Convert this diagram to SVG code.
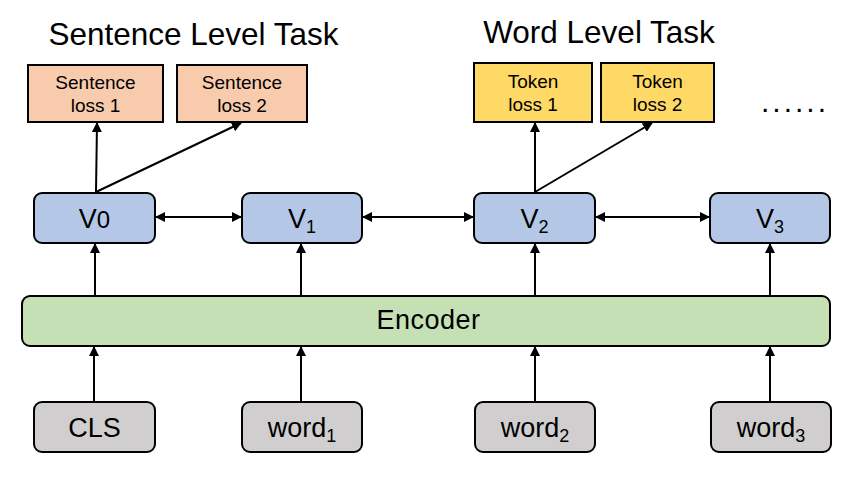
<svg xmlns="http://www.w3.org/2000/svg" width="866" height="480" viewBox="0 0 866 480">
<style>
text{font-family:"Liberation Sans",Arial,sans-serif;fill:#000}
.title{font-size:31.5px;text-anchor:middle}
.loss{font-size:19px;text-anchor:middle}
.lbl{font-size:27px;text-anchor:middle}
.box{stroke:#000;stroke-width:2}
.conn line{stroke:#000;stroke-width:2}
</style>
<defs>
<marker id="ah" viewBox="0 0 10 10" refX="9" refY="5" markerWidth="5" markerHeight="5" orient="auto-start-reverse" markerUnits="strokeWidth">
<path d="M0,0L10,5L0,10z" fill="#000"/>
</marker>
</defs>
<rect width="866" height="480" fill="#fff"/>
<text class="title" x="193.5" y="45">Sentence Level Task</text>
<text class="title" x="599" y="43">Word Level Task</text>
<text x="795" y="112" font-size="30" letter-spacing="3" text-anchor="middle">......</text>

<g id="sloss1"><rect class="box" x="28" y="65" width="135" height="57" fill="#F8CBAD"/><text class="loss" x="95.5" y="89">Sentence</text><text class="loss" x="95.5" y="112">loss 1</text></g>
<g id="sloss2"><rect class="box" x="177" y="65" width="130" height="57" fill="#F8CBAD"/><text class="loss" x="242" y="89">Sentence</text><text class="loss" x="242" y="112">loss 2</text></g>
<g id="tloss1"><rect class="box" x="474" y="63" width="118" height="59" fill="#FFD966"/><text class="loss" x="533" y="88">Token</text><text class="loss" x="533" y="111">loss 1</text></g>
<g id="tloss2"><rect class="box" x="601" y="63" width="113" height="59" fill="#FFD966"/><text class="loss" x="657.5" y="88">Token</text><text class="loss" x="657.5" y="111">loss 2</text></g>

<g id="v0"><rect class="box" x="34" y="193" width="121" height="50" rx="8" fill="#B4C7E7"/><text class="lbl" x="94.5" y="228">V<tspan font-size="24">0</tspan></text></g>
<g id="v1"><rect class="box" x="242" y="193" width="120" height="50" rx="8" fill="#B4C7E7"/><text class="lbl" x="302" y="228">V<tspan font-size="18" dy="5">1</tspan></text></g>
<g id="v2"><rect class="box" x="474" y="193" width="121" height="50" rx="8" fill="#B4C7E7"/><text class="lbl" x="534.5" y="228">V<tspan font-size="18" dy="5">2</tspan></text></g>
<g id="v3"><rect class="box" x="710" y="193" width="120" height="50" rx="8" fill="#B4C7E7"/><text class="lbl" x="770" y="228">V<tspan font-size="18" dy="5">3</tspan></text></g>

<g id="encoder"><rect class="box" x="22" y="296" width="808" height="50" rx="8" fill="#C5E0B4"/><text class="lbl" x="428.5" y="329" letter-spacing="0.5">Encoder</text></g>

<g id="cls"><rect class="box" x="34" y="402" width="121" height="50" rx="8" fill="#D0CECE"/><text class="lbl" x="94.5" y="437">CLS</text></g>
<g id="word1"><rect class="box" x="242" y="402" width="120" height="50" rx="8" fill="#D0CECE"/><text class="lbl" x="302" y="437">word<tspan font-size="18" dy="5">1</tspan></text></g>
<g id="word2"><rect class="box" x="475" y="402" width="120" height="50" rx="8" fill="#D0CECE"/><text class="lbl" x="535" y="437">word<tspan font-size="18" dy="5">2</tspan></text></g>
<g id="word3"><rect class="box" x="711" y="402" width="120" height="50" rx="8" fill="#D0CECE"/><text class="lbl" x="771" y="437">word<tspan font-size="18" dy="5">3</tspan></text></g>

<g class="conn" id="connectors">
<line x1="94" y1="402" x2="94" y2="347" marker-end="url(#ah)"/>
<line x1="301" y1="402" x2="301" y2="347" marker-end="url(#ah)"/>
<line x1="535" y1="402" x2="535" y2="347" marker-end="url(#ah)"/>
<line x1="770" y1="402" x2="770" y2="347" marker-end="url(#ah)"/>
<line x1="95" y1="296" x2="95" y2="244" marker-end="url(#ah)"/>
<line x1="301" y1="296" x2="301" y2="244" marker-end="url(#ah)"/>
<line x1="535" y1="296" x2="535" y2="244" marker-end="url(#ah)"/>
<line x1="770" y1="296" x2="770" y2="244" marker-end="url(#ah)"/>
<line x1="96" y1="192" x2="97" y2="123" marker-end="url(#ah)"/>
<line x1="96" y1="192" x2="241" y2="123" marker-end="url(#ah)"/>
<line x1="535" y1="192" x2="535" y2="123" marker-end="url(#ah)"/>
<line x1="535" y1="192" x2="652" y2="123" marker-end="url(#ah)"/>
<line x1="156" y1="217" x2="241" y2="217" marker-start="url(#ah)" marker-end="url(#ah)"/>
<line x1="363" y1="217" x2="473" y2="217" marker-start="url(#ah)" marker-end="url(#ah)"/>
<line x1="596" y1="217" x2="709" y2="217" marker-start="url(#ah)" marker-end="url(#ah)"/>
</g>
</svg>
